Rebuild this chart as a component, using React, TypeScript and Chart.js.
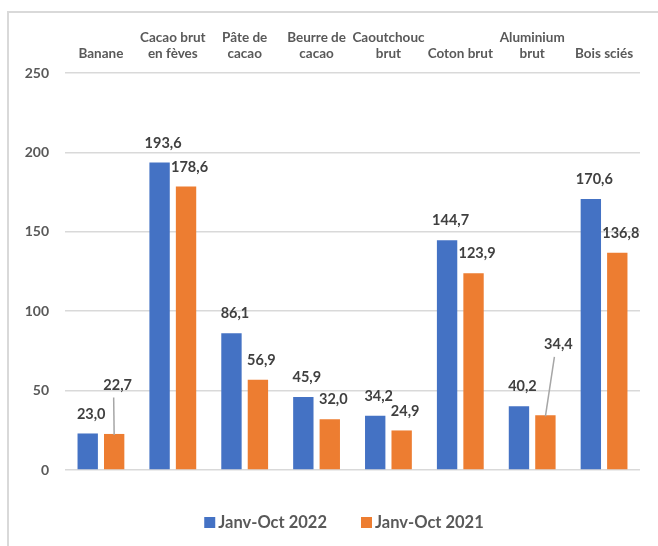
import { useEffect, useRef } from "react";
import { Chart, registerables } from "chart.js";

Chart.register(...registerables);

const categories: string[][] = [
  ["Banane"],
  ["Cacao brut", "en fèves"],
  ["Pâte de", "cacao"],
  ["Beurre de", "cacao"],
  ["Caoutchouc", "brut"],
  ["Coton brut"],
  ["Aluminium", "brut"],
  ["Bois sciés"],
];
const series2022 = [23.0, 193.6, 86.1, 45.9, 34.2, 144.7, 40.2, 170.6];
const series2021 = [22.7, 178.6, 56.9, 32.0, 24.9, 123.9, 34.4, 136.8];
const seriesNames = ["Janv-Oct 2022", "Janv-Oct 2021"];
const yTicks = [0, 50, 100, 150, 200, 250];
const seriesColors = ["#4472C4", "#ED7D31"];

const FONT = "Lato, 'Open Sans', sans-serif";

const fmt = (v: number) => v.toFixed(1).replace(".", ",");

export default function App() {
  const ref = useRef<HTMLCanvasElement>(null);

  useEffect(() => {
    const canvas = ref.current!;

    // label placement tweaks (moved labels with leader lines)
    const labelMoves: Record<string, { dx: number; dy: number; leader: boolean }> = {
      "1-0": { dx: 3.5, dy: -49, leader: true },
      "1-6": { dx: 13, dy: -71, leader: true },
    };

    const barLabels = {
      id: "barLabels",
      afterDatasetsDraw(chart: any) {
        const ctx = chart.ctx;
        ctx.save();
        ctx.font = `bold 14.5px ${FONT}`;
        ctx.fillStyle = "#404040";
        ctx.textAlign = "center";
        ctx.textBaseline = "middle";
        chart.data.datasets.forEach((ds: any, di: number) => {
          const meta = chart.getDatasetMeta(di);
          meta.data.forEach((el: any, i: number) => {
            const mv = labelMoves[`${di}-${i}`];
            const lx = el.x + (mv ? mv.dx : 3.5);
            const ly = el.y + (mv ? mv.dy : -19.5);
            if (mv && mv.leader) {
              ctx.save();
              ctx.strokeStyle = "#a6a6a6";
              ctx.lineWidth = 1.5;
              ctx.beginPath();
              ctx.moveTo(lx - 4, ly + 12.5);
              ctx.lineTo(el.x, el.y + 1);
              ctx.stroke();
              ctx.restore();
            }
            ctx.fillText(fmt(ds.data[i]), lx, ly);
          });
        });
        ctx.restore();
      },
    };

    const customLegend = {
      id: "customLegend",
      afterDraw(chart: any) {
        const ctx = chart.ctx;
        ctx.save();
        ctx.font = `bold 16.5px ${FONT}`;
        ctx.textBaseline = "middle";
        ctx.textAlign = "left";
        const box = 11;
        const gapBoxText = 3;
        const gapItems = 34;
        const widths = seriesNames.map((n) => box + gapBoxText + ctx.measureText(n).width);
        const total = widths.reduce((a, b) => a + b, 0) + gapItems * (seriesNames.length - 1);
        let x = 344 - total / 2;
        const cy = 522.5;
        seriesNames.forEach((n, i) => {
          ctx.fillStyle = seriesColors[i];
          ctx.fillRect(x, cy - box / 2, box, box);
          ctx.fillStyle = "#595959";
          ctx.fillText(n, x + box + gapBoxText, cy);
          x += widths[i] + gapItems;
        });
        ctx.restore();
      },
    };

    const chart = new Chart(canvas, {
      type: "bar",
      data: {
        labels: categories,
        datasets: [
          {
            label: seriesNames[0],
            data: series2022,
            backgroundColor: seriesColors[0],
            categoryPercentage: 0.736,
            barPercentage: 0.77,
          },
          {
            label: seriesNames[1],
            data: series2021,
            backgroundColor: seriesColors[1],
            categoryPercentage: 0.736,
            barPercentage: 0.77,
          },
        ],
      },
      options: {
        responsive: false,
        animation: false,
        layout: { padding: { top: 0, right: 18, bottom: 76, left: 0 } },
        plugins: {
          legend: { display: false },
          tooltip: { enabled: false },
        },
        scales: {
          x: {
            position: "top",
            grid: { display: false, drawTicks: false },
            border: { display: false },
            ticks: {
              autoSkip: false,
              maxRotation: 0,
              minRotation: 0,
              padding: 11,
              color: "#595959",
              font: { family: FONT, size: 13.5, weight: "bold", lineHeight: 1.22 },
            },
            afterFit: (s: any) => {
              s.height = 73;
            },
          },
          y: {
            min: 0,
            max: 250,
            grid: { color: "#d9d9d9", lineWidth: 1.5, drawTicks: false },
            border: { display: false },
            ticks: {
              padding: 16,
              color: "#595959",
              font: { family: FONT, size: 14, weight: "bold" },
            },
            afterBuildTicks: (s: any) => {
              s.ticks = yTicks.map((v) => ({ value: v }));
            },
            afterFit: (s: any) => {
              s.width = 65;
            },
          },
        },
      },
      plugins: [barLabels, customLegend],
    } as any);

    return () => chart.destroy();
  }, []);

  return (
    <div
      style={{
        position: "fixed",
        left: 0,
        top: 0,
        width: 658,
        height: 546,
        overflow: "hidden",
        background: "#ffffff",
      }}
    >
      <div
        style={{
          position: "absolute",
          left: 7,
          top: 11,
          width: 720,
          height: 620,
          border: "2px solid #d9d9d9",
        }}
      />
      <canvas
        ref={ref}
        width={658}
        height={546}
        style={{ position: "absolute", left: 0, top: 0, width: 658, height: 546 }}
      />
    </div>
  );
}
